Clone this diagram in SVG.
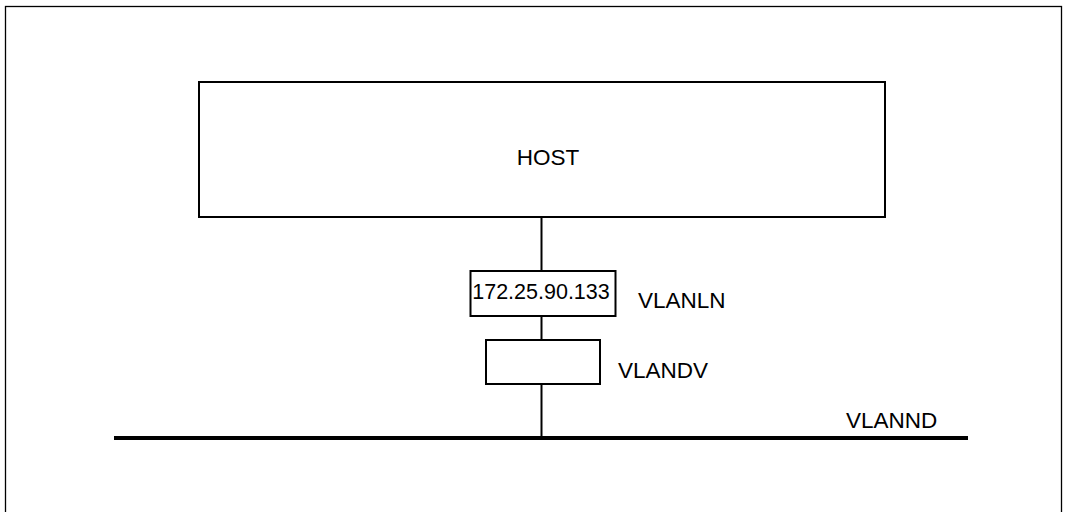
<svg xmlns="http://www.w3.org/2000/svg" width="1066" height="512" viewBox="0 0 1066 512">
<style>
.t{font-family:"Liberation Sans",Arial,sans-serif;font-size:22.5px;fill:#000}
.b{fill:#fff;stroke:#000;stroke-width:2}
.l{stroke:#000;stroke-width:2;fill:none}
</style>
<rect x="0" y="0" width="1066" height="512" fill="#fff"/>
<rect id="frame" x="5.5" y="6.5" width="1056" height="520" fill="none" stroke="#000" stroke-width="1.3"/>
<g id="connectors">
<line class="l" x1="541.5" y1="217" x2="541.5" y2="271"/>
<line class="l" x1="541.5" y1="316" x2="541.5" y2="340"/>
<line class="l" x1="541.5" y1="384" x2="541.5" y2="438"/>
</g>
<g id="host">
<rect class="b" x="199" y="82" width="686" height="135"/>
<text class="t" x="548" y="165" text-anchor="middle">HOST</text>
</g>
<g id="vlanln">
<rect class="b" x="470.5" y="271" width="145" height="45"/>
<text class="t" x="541" y="299" text-anchor="middle" style="font-size:21.5px">172.25.90.133</text>
<text class="t" x="638" y="308">VLANLN</text>
</g>
<g id="vlandv">
<rect class="b" x="486" y="340" width="114" height="44"/>
<text class="t" x="618" y="378">VLANDV</text>
</g>
<g id="vlannd">
<line x1="114" y1="438" x2="968" y2="438" stroke="#000" stroke-width="4"/>
<text class="t" x="846" y="428">VLANND</text>
</g>
</svg>
